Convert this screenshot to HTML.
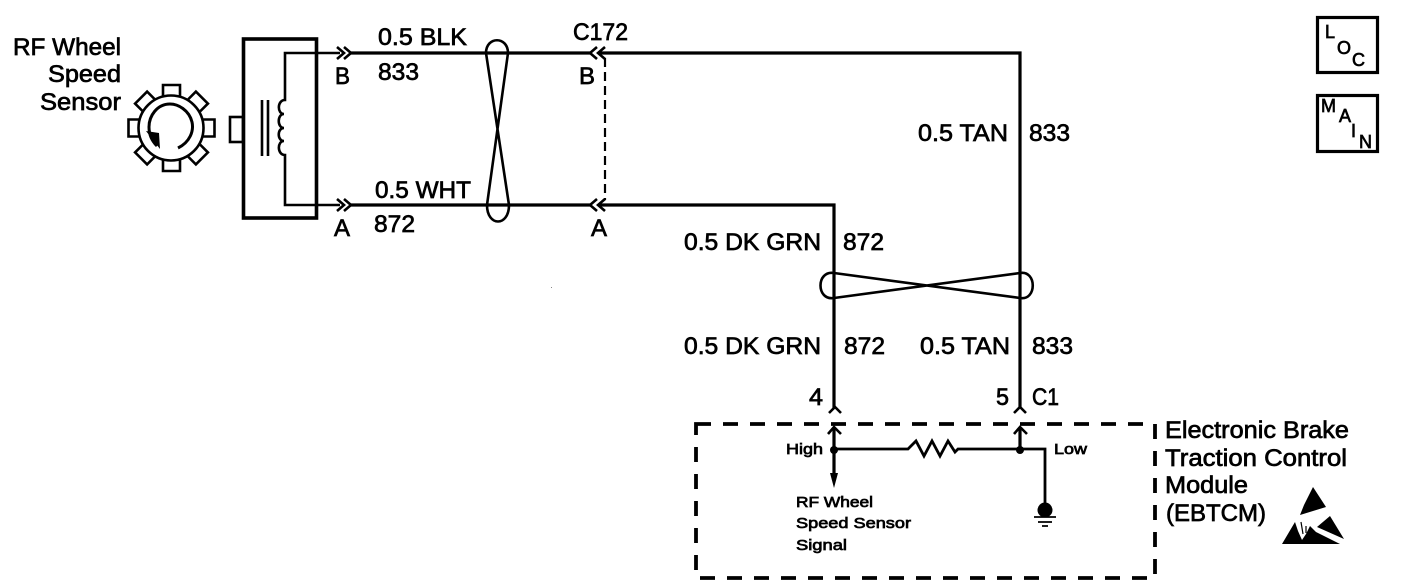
<!DOCTYPE html>
<html><head><meta charset="utf-8"><style>
html,body{margin:0;padding:0;background:#fff;width:1408px;height:584px;overflow:hidden}
svg{display:block}
text{font-family:"Liberation Sans",sans-serif;fill:#000;stroke:#000;stroke-width:.7px}
.m{font-size:24px}.s{font-size:15px;stroke-width:.55px}.b{font-size:18px;stroke-width:.7px}
.w{fill:none;stroke:#000;stroke-width:3.2}
.t{fill:none;stroke:#000;stroke-width:2.6}
</style></head><body>
<svg width="1408" height="584" viewBox="0 0 1408 584" xmlns="http://www.w3.org/2000/svg">
<!-- gear -->
<g class="t" stroke-width="3">
<circle cx="171" cy="128" r="32.5"/>
<path d="M163 96V85H180V96"/>
<path d="M163 96V85H180V96" transform="rotate(45 171.5 128)"/>
<path d="M163 96V85H180V96" transform="rotate(90 171.5 128)"/>
<path d="M163 96V85H180V96" transform="rotate(135 171.5 128)"/>
<path d="M163 96V85H180V96" transform="rotate(180 171.5 128)"/>
<path d="M163 96V85H180V96" transform="rotate(225 171.5 128)"/>
<path d="M163 96V85H180V96" transform="rotate(270 171.5 128)"/>
<path d="M163 96V85H180V96" transform="rotate(315 171.5 128)"/>
<path d="M178 148C190 142 194 131 192 122C189 110 178 104 170 104C157 104 149 116 149 127C149 134 152 141 157 146" stroke-width="3"/>
</g>
<path d="M146 131L160 149L159 133Z" fill="#000"/>
<!-- sensor box -->
<rect x="230" y="117" width="13" height="25" class="t"/>
<rect x="243.5" y="39" width="73" height="179" class="w" style="stroke-width:3.6"/>
<path class="t" d="M340 53H285V100C277 100 277 114 284 114C277 114 277 128 284 128C277 128 277 141 284 141C277 141 277 155 285 155V205H340"/>
<path class="t" d="M262 100V156M268 100V156"/>
<!-- connectors left -->
<path class="t" d="M337 47L344 53L337 59M344 47L351 53L344 59M337 199L344 205L337 211M344 199L351 205L344 211"/>
<path class="w" d="M350 53H590M350 205H590"/>
<path class="t" d="M597 47L590 53L597 59M605 47L598 53L605 59M597 199L590 205L597 211M605 199L598 205L605 211"/>
<path class="w" d="M600 53H1020V408M600 205H834V408"/>
<path d="M605 58V200" fill="none" stroke="#000" stroke-width="2.2" stroke-dasharray="9 5"/>
<!-- twists -->
<path class="t" d="M486 53C486 36 508 36 508 53L487 205C487 227 509 227 509 205L486 53Z"/>
<path class="t" d="M834 273C816 270 816 301 834 298L1020 273C1037 270 1037 301 1020 298L834 273Z"/>
<!-- C1 terminals -->
<path class="t" d="M829 413L835 407L841 413M1014 413L1020 407L1026 413"/>
<path class="t" d="M828 434L834 427L841 434M1014 434L1020 427L1027 434"/>
<path class="w" d="M834 428V476M1020 428V449"/>
<path d="M834 488L830 473H838Z" fill="#000"/>
<circle cx="834" cy="450" r="4"/><circle cx="1020" cy="450" r="4"/>
<path class="t" d="M834 449H908L916 441L924 456L932 441L940 456L948 441L955 452L958 449H1045V505" style="stroke-width:2.8"/>
<ellipse cx="1045" cy="510" rx="7.5" ry="7.5"/>
<path class="t" d="M1034 517H1056M1038 522H1052M1042 526H1048" style="stroke-width:1.8"/>
<!-- dashed module -->
<path d="M696 424H1155V578H696Z" fill="none" stroke="#000" stroke-width="3.8" stroke-dasharray="15 12"/>
<!-- ESD -->
<path d="M1313 487L1326 507L1300 515L1304 505Z" fill="#000"/>
<path d="M1330 516L1344 539L1317 527Z" fill="#000"/>
<path d="M1282 544L1295 522L1298 531L1302 540L1306 534L1310 526L1316 532L1340 544Z" fill="#000"/>
<path d="M1301 522L1303 534M1306 526L1306 533" stroke="#000" stroke-width="1.2" fill="none"/>
<!-- LOC / MAIN -->
<rect x="1317.5" y="17.5" width="60" height="55" class="w"/>
<rect x="1317.5" y="95.5" width="60" height="56" class="w"/>
<text class="b" x="1325" y="38">L</text><text class="b" x="1337" y="54">O</text><text class="b" x="1352" y="66">C</text>
<text class="b" x="1321" y="112">M</text><text class="b" x="1339" y="122">A</text><text class="b" x="1351" y="137">I</text><text class="b" x="1359" y="148">N</text>
<!-- labels -->
<g class="m">
<text x="13" y="55" textLength="108" lengthAdjust="spacingAndGlyphs">RF Wheel</text>
<text x="48" y="82" textLength="73" lengthAdjust="spacingAndGlyphs">Speed</text>
<text x="40" y="110" textLength="81" lengthAdjust="spacingAndGlyphs">Sensor</text>
<text x="335" y="84" textLength="15" lengthAdjust="spacingAndGlyphs">B</text>
<text x="334" y="236" textLength="16" lengthAdjust="spacingAndGlyphs">A</text>
<text x="378" y="45" textLength="89" lengthAdjust="spacingAndGlyphs">0.5 BLK</text>
<text x="378" y="80" textLength="41" lengthAdjust="spacingAndGlyphs">833</text>
<text x="375" y="198" textLength="96" lengthAdjust="spacingAndGlyphs">0.5 WHT</text>
<text x="374" y="232" textLength="41" lengthAdjust="spacingAndGlyphs">872</text>
<text x="573" y="40" textLength="55" lengthAdjust="spacingAndGlyphs">C172</text>
<text x="579" y="84" textLength="16" lengthAdjust="spacingAndGlyphs">B</text>
<text x="591" y="236" textLength="16" lengthAdjust="spacingAndGlyphs">A</text>
<text x="918" y="141" textLength="90" lengthAdjust="spacingAndGlyphs">0.5 TAN</text>
<text x="1029" y="141" textLength="41" lengthAdjust="spacingAndGlyphs">833</text>
<text x="684" y="250" textLength="137" lengthAdjust="spacingAndGlyphs">0.5 DK GRN</text>
<text x="843" y="250" textLength="41" lengthAdjust="spacingAndGlyphs">872</text>
<text x="684" y="354" textLength="137" lengthAdjust="spacingAndGlyphs">0.5 DK GRN</text>
<text x="844" y="354" textLength="41" lengthAdjust="spacingAndGlyphs">872</text>
<text x="920" y="354" textLength="90" lengthAdjust="spacingAndGlyphs">0.5 TAN</text>
<text x="1032" y="354" textLength="41" lengthAdjust="spacingAndGlyphs">833</text>
<text x="809" y="405" textLength="14" lengthAdjust="spacingAndGlyphs">4</text>
<text x="996" y="405" textLength="13" lengthAdjust="spacingAndGlyphs">5</text>
<text x="1032" y="405" textLength="27" lengthAdjust="spacingAndGlyphs">C1</text>
<text x="1165" y="438" textLength="184" lengthAdjust="spacingAndGlyphs">Electronic Brake</text>
<text x="1165" y="466" textLength="182" lengthAdjust="spacingAndGlyphs">Traction Control</text>
<text x="1165" y="493" textLength="83" lengthAdjust="spacingAndGlyphs">Module</text>
<text x="1166" y="521" textLength="100" lengthAdjust="spacingAndGlyphs">(EBTCM)</text>
</g>
<g class="s">
<text x="786" y="454" textLength="37" lengthAdjust="spacingAndGlyphs">High</text>
<text x="1054" y="454" textLength="33" lengthAdjust="spacingAndGlyphs">Low</text>
<text x="796" y="507" textLength="77" lengthAdjust="spacingAndGlyphs">RF Wheel</text>
<text x="796" y="528" textLength="115" lengthAdjust="spacingAndGlyphs">Speed Sensor</text>
<text x="796" y="550" textLength="51" lengthAdjust="spacingAndGlyphs">Signal</text>
</g>
<rect x="551" y="287" width="1" height="1" fill="#888"/>
</svg>
</body></html>
